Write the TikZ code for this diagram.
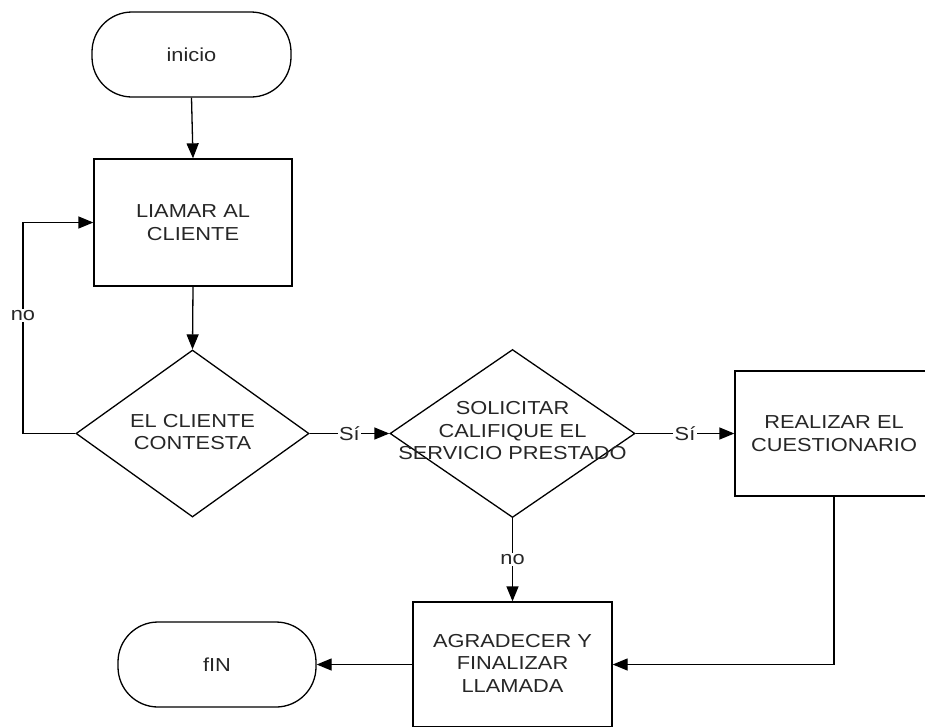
\documentclass[tikz,border=0pt]{standalone}
\usepackage{fontspec}
\setmainfont{Liberation Sans}[FakeStretch=1.16]
\usetikzlibrary{shapes.geometric,arrows.meta}
\begin{document}
\begin{tikzpicture}[x=1pt,y=-1pt,
  every node/.style={font=\fontsize{18.8}{22.5}\selectfont, text=black!85},
  line width=1.3pt,
  box/.style={draw, rectangle, inner sep=0pt},
  pill/.style={draw, rectangle, rounded corners=40pt, inner sep=0pt},
  dia/.style={draw, diamond, inner sep=0pt},
  txt/.style={align=center, inner sep=0pt},
  lbl/.style={fill=white, inner sep=1.5pt},
  arr/.style={-{Triangle[length=15pt,width=12pt]}}]
\useasboundingbox (0,0) rectangle (925,726);
\clip (0,0) rectangle (925,726);
\node[pill, minimum width=199pt, minimum height=85pt] (inicio) at (191.5,54.5) {};
\node[txt] (inicioT) at (inicio) {inicio};
\node[box, minimum width=198pt, minimum height=127pt] (b1) at (193,222.5) {};
\node[txt] (b1T) at (b1) {LIAMAR AL\\CLIENTE};
\node[dia, minimum width=233pt, minimum height=167pt] (d1) at (192.5,433.5) {};
\node[txt] (d1T) at (192.5,432) {EL CLIENTE\\CONTESTA};
\node[dia, minimum width=245pt, minimum height=168pt] (d2) at (512.5,433.5) {};
\node[txt] (d2T) at (512.5,431) {SOLICITAR\\CALIFIQUE EL\\SERVICIO PRESTADO};
\node[box, minimum width=198pt, minimum height=125pt] (b3) at (834,433.5) {};
\node[txt] (b3T) at (b3) {REALIZAR EL\\CUESTIONARIO};
\node[box, minimum width=199pt, minimum height=125pt] (b4) at (512.5,664.5) {};
\node[txt] (b4T) at (512.5,663) {AGRADECER Y\\FINALIZAR\\LLAMADA};
\node[pill, minimum width=198pt, minimum height=85pt] (fin) at (217,664.5) {};
\node[txt] (finT) at (fin) {fIN};
\draw[arr] (inicio.south) -- (b1.north);
\draw[arr] (b1.south) -- (d1.north);
\coordinate (lp) at (23,433.5);
\draw[arr] (d1.west) -- (lp) |- (b1.west) node[lbl, pos=0.28] {no};
\draw[arr] (d1.east) -- (d2.west) node[lbl, midway] {Sí};
\draw[arr] (d2.east) -- (b3.west) node[lbl, midway] {Sí};
\draw[arr] (d2.south) -- (b4.north) node[lbl, midway] {no};
\draw[arr] (b3.south) |- (b4.east);
\draw[arr] (b4.west) -- (fin.east);
\end{tikzpicture}
\end{document}
